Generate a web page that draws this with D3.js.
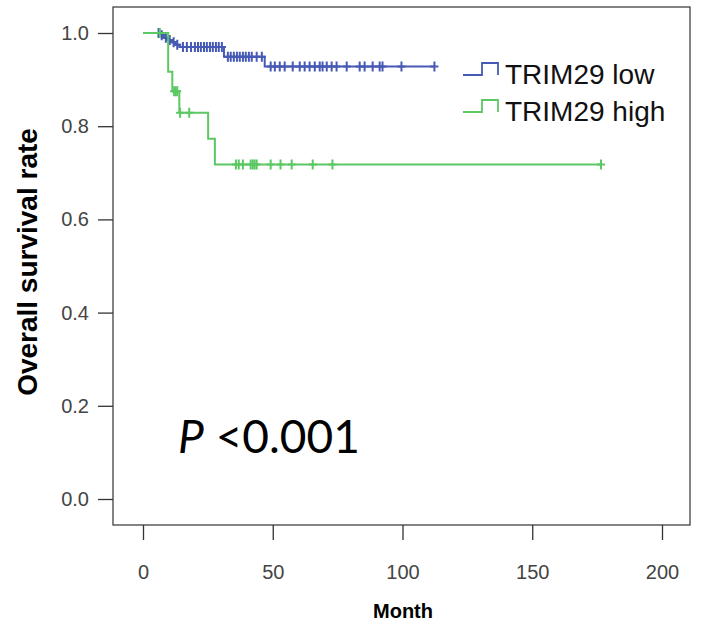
<!DOCTYPE html>
<html>
<head>
<meta charset="utf-8">
<script src="https://cdn.jsdelivr.net/npm/d3@7"></script>
<style>
  body { margin: 0; background: #fff; }
  svg { display: block; }
</style>
</head>
<body>
<div id="chart"></div>
<script>
// Kaplan-Meier steps: [month, survival after event]
const lowSteps = [[0, 1], [6.5, 0.995], [8, 0.99], [9.5, 0.985], [11, 0.98], [12.5, 0.975], [14, 0.97], [31.2, 0.949], [46.9, 0.928]];
const lowEnd = 112.5;
const lowCensor = [6, 7.2, 8.8, 10.3, 11.8, 13.2, 15.4, 16.9, 18.5, 20, 21.2, 22.3, 23.5, 24.6, 25.8, 26.9, 28.1, 29.2, 30.4,
  32.7, 33.8, 35, 36.2, 37.3, 38.5, 39.6, 40.8, 41.9, 43.8, 45.8,
  49.2, 50.8, 52.7, 54.6, 57.7, 60.4, 62.3, 64.2, 66.2, 68.1, 69.2, 70.8, 72.7, 74.6, 78.5, 83.5, 85.4, 88.5, 91.2, 92.3, 99.6, 112.3];

const highSteps = [[0, 1], [9.7, 0.917], [11.3, 0.875], [14, 0.829], [25.1, 0.773], [27.7, 0.718]];
const highEnd = 176.5;
const highCensor = [6.5, 12, 12.6, 13.2, 14.3, 17.8, 35.8, 36.9, 38.5, 41.5, 42.3, 43, 43.8, 49.2, 53, 57.3, 65.4, 73, 176.5];

const xTicks = [0, 50, 100, 150, 200];
const yTicks = [0, 0.2, 0.4, 0.6, 0.8, 1.0];
const groups = ["TRIM29 low", "TRIM29 high"];
const colors = ["#4659b4", "#5cc864"];

const W = 702, H = 628;
const box = {left: 113, right: 690, top: 7, bottom: 525};

const svg = d3.select("#chart").append("svg")
  .attr("width", W)
  .attr("height", H);

const x = d3.scaleLinear().domain([0, 200]).range([143, 662]);
const y = d3.scaleLinear().domain([0, 1]).range([499, 33]);

// plot frame
svg.append("rect")
  .attr("x", box.left)
  .attr("y", box.top)
  .attr("width", box.right - box.left)
  .attr("height", box.bottom - box.top)
  .attr("fill", "white")
  .attr("stroke", "#333")
  .attr("stroke-width", 1.2);

// axes
const xAxis = svg.append("g")
  .attr("transform", `translate(0,${box.bottom})`)
  .call(d3.axisBottom(x).tickValues(xTicks).tickSize(15).tickPadding(25).tickFormat(d3.format("d")));
const yAxis = svg.append("g")
  .attr("transform", `translate(${box.left},0)`)
  .call(d3.axisLeft(y).tickValues(yTicks).tickSize(15).tickPadding(9).tickFormat(d3.format(".1f")));

[xAxis, yAxis].forEach(a => {
  a.select(".domain").remove();
  a.selectAll(".tick line").attr("stroke", "#333").attr("stroke-width", 1.3);
  a.selectAll(".tick text")
    .attr("fill", "#444")
    .attr("font-family", "Liberation Sans, Arial, sans-serif")
    .attr("font-size", 20);
});

svg.append("text")
  .attr("x", 403)
  .attr("y", 618)
  .attr("text-anchor", "middle")
  .attr("font-family", "Liberation Sans, Arial, sans-serif")
  .attr("font-weight", "bold")
  .attr("font-size", 20)
  .text("Month");

svg.append("text")
  .attr("transform", "translate(37,262) rotate(-90)")
  .attr("text-anchor", "middle")
  .attr("font-family", "Liberation Sans, Arial, sans-serif")
  .attr("font-weight", "bold")
  .attr("font-size", 28)
  .text("Overall survival rate");

// curves
const line = d3.line()
  .curve(d3.curveStepAfter)
  .x(d => x(d[0]))
  .y(d => y(d[1]));

function survAt(steps, t) {
  let s = steps[0][1];
  for (const st of steps) if (st[0] <= t) s = st[1];
  return s;
}

const series = [
  {steps: lowSteps, end: lowEnd, censor: lowCensor, color: colors[0]},
  {steps: highSteps, end: highEnd, censor: highCensor, color: colors[1]}
];

series.forEach(s => {
  const pts = s.steps.concat([[s.end, s.steps[s.steps.length - 1][1]]]);
  const g = svg.append("g");
  g.append("path")
    .attr("d", line(pts))
    .attr("fill", "none")
    .attr("stroke", s.color)
    .attr("stroke-width", 2);
  g.selectAll("path.cens")
    .data(s.censor)
    .join("path")
    .attr("class", "cens")
    .attr("d", t => {
      const cx = x(t), cy = y(survAt(s.steps, t));
      return `M${cx},${cy - 5}V${cy + 5}M${cx - 4},${cy}H${cx + 4}`;
    })
    .attr("stroke", s.color)
    .attr("stroke-width", 2);
});

// legend
const legend = svg.append("g");
groups.forEach((name, i) => {
  const ly = 75 + i * 37;
  legend.append("path")
    .attr("d", `M463,${ly}H482V${ly - 12}H498V${ly}`)
    .attr("fill", "none")
    .attr("stroke", colors[i])
    .attr("stroke-width", 1.8);
  legend.append("text")
    .attr("x", 505)
    .attr("y", ly + 9)
    .attr("font-family", "Liberation Sans, Arial, sans-serif")
    .attr("font-size", 28)
    .attr("fill", "#111")
    .text(name);
});

// p value
const p = svg.append("text")
  .attr("x", 178)
  .attr("y", 453)
  .attr("font-family", "Lato, Open Sans, sans-serif")
  .attr("font-size", 46)
  .attr("fill", "#000");
p.append("tspan").attr("font-style", "italic").text("P");
p.append("tspan").text(" <0.001");
</script>
</body>
</html>
